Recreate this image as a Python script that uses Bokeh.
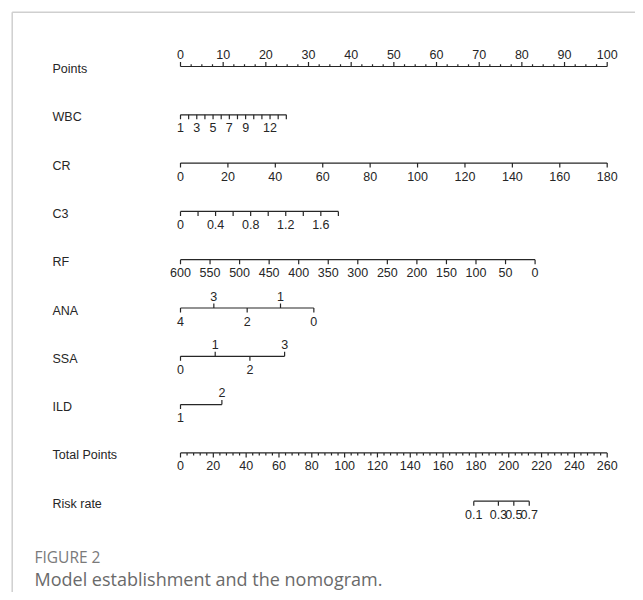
import numpy as np
from bokeh.plotting import figure
from bokeh.models import Range1d, ColumnDataSource
from bokeh.core.properties import value
from bokeh.embed import file_html
from bokeh.resources import INLINE

# ---------------- data ----------------
row_names = ["Points", "WBC", "CR", "C3", "RF", "ANA", "SSA", "ILD", "Total Points", "Risk rate"]

points_max = 100
points_major = [0, 10, 20, 30, 40, 50, 60, 70, 80, 90, 100]
points_minor_step = 2.5

wbc_values = [1, 2, 3, 4, 5, 6, 7, 8, 9, 10, 11, 12, 13, 14]
wbc_labels = [1, 3, 5, 7, 9, 12]
wbc_points_at_max = 24.8          # points given to WBC = 14

cr_values = [0, 20, 40, 60, 80, 100, 120, 140, 160, 180]
cr_labels = [0, 20, 40, 60, 80, 100, 120, 140, 160, 180]
cr_points_at_max = 100.0          # points given to CR = 180

c3_values = [0, 0.2, 0.4, 0.6, 0.8, 1.0, 1.2, 1.4, 1.6, 1.8]
c3_labels = [0, 0.4, 0.8, 1.2, 1.6]
c3_points_at_max = 37.0           # points given to C3 = 1.8

rf_values = [600, 550, 500, 450, 400, 350, 300, 250, 200, 150, 100, 50, 0]
rf_labels = [600, 550, 500, 450, 400, 350, 300, 250, 200, 150, 100, 50, 0]
rf_points_at_max = 83.1           # points given to RF = 0

ana_values = [4, 3, 2, 1, 0]
ana_labels_above = [3, 1]
ana_labels_below = [4, 2, 0]
ana_points_at_max = 31.25         # points given to ANA = 0

ssa_values = [0, 1, 2, 3]
ssa_labels_above = [1, 3]
ssa_labels_below = [0, 2]
ssa_points_at_max = 24.4          # points given to SSA = 3

ild_values = [1, 2]
ild_labels_above = [2]
ild_labels_below = [1]
ild_points_at_max = 9.7           # points given to ILD = 2

total_max = 260
total_major = [0, 20, 40, 60, 80, 100, 120, 140, 160, 180, 200, 220, 240, 260]
total_minor_step = 4

risk_labels = [0.1, 0.3, 0.5, 0.7]
risk_total_points = [178.7, 193.7, 203.1, 212.5]

caption_label = "FIGURE 2"
caption_text = "Model establishment and the nomogram."

# ---------------- layout (pixels) ----------------
FIG_W, FIG_H = 635, 592
X0_PX, X100_PX = 180.0, 606.7      # points axis 0 / 100
ROW0_PX, ROW_STEP_PX = 66.0, 48.3   # first axis line / spacing
PX_PER_PT = (X100_PX - X0_PX) / points_max


def X(px):
    return (px - X0_PX) / PX_PER_PT


def Y(py):
    return (ROW0_PX - py) / ROW_STEP_PX


def dy(px):
    return px / ROW_STEP_PX


def scale(vals, v0, v1, pmax):
    return [(v - v0) / (v1 - v0) * pmax for v in vals]


def fmt(v):
    return f"{v:g}"


p = figure(width=FIG_W, height=FIG_H,
           x_range=Range1d(X(0), X(FIG_W)),
           y_range=Range1d(Y(FIG_H), Y(0)),
           output_backend="svg", toolbar_location=None,
           min_border=0, min_border_left=0, min_border_right=0,
           min_border_top=0, min_border_bottom=0)
p.axis.visible = False
p.grid.visible = False
p.outline_line_color = None
p.background_fill_color = "white"
p.border_fill_color = "white"

LINE_C = "#262626"
TEXT_C = "#262626"
TICK_FONT = value("Liberation Sans")
TICK_SIZE = "12.5px"
NAME_SIZE = "12.5px"

# frame border (top and left)
p.segment(x0=[X(11.7), X(11.7)], y0=[Y(11.7), Y(11.7)],
          x1=[X(FIG_W + 5), X(11.7)], y1=[Y(11.7), Y(FIG_H + 5)],
          line_color="#cfcfcf", line_width=1.5)

seg = {"x0": [], "y0": [], "x1": [], "y1": []}
labs = {"above": {"x": [], "y": [], "t": []}, "below": {"x": [], "y": [], "t": []}}


def add_axis(row, pts, up_flags, tick_len_px):
    y = -row
    seg["x0"].append(min(pts)); seg["x1"].append(max(pts))
    seg["y0"].append(y); seg["y1"].append(y)
    for x, up, tl in zip(pts, up_flags, tick_len_px):
        seg["x0"].append(x); seg["x1"].append(x)
        seg["y0"].append(y); seg["y1"].append(y + (dy(tl) if up else -dy(tl)))


def add_labels(row, pts, texts, where):
    for x, t in zip(pts, texts):
        labs[where]["x"].append(x)
        labs[where]["y"].append(-row)
        labs[where]["t"].append(t)


# Row 0: Points
pt_ticks = list(np.arange(0, points_max + 1e-9, points_minor_step))
add_axis(0, pt_ticks, [True] * len(pt_ticks),
         [4.5 if abs(t % 10) < 1e-9 else 2.3 for t in pt_ticks])
add_labels(0, points_major, [fmt(v) for v in points_major], "above")

# Row 1: WBC
wbc_pts = scale(wbc_values, wbc_values[0], wbc_values[-1], wbc_points_at_max)
add_axis(1, wbc_pts, [False] * len(wbc_pts), [4.5] * len(wbc_pts))
add_labels(1, scale(wbc_labels, wbc_values[0], wbc_values[-1], wbc_points_at_max),
           [fmt(v) for v in wbc_labels], "below")

# Row 2: CR
cr_pts = scale(cr_values, cr_values[0], cr_values[-1], cr_points_at_max)
add_axis(2, cr_pts, [False] * len(cr_pts), [4.5] * len(cr_pts))
add_labels(2, scale(cr_labels, cr_values[0], cr_values[-1], cr_points_at_max),
           [fmt(v) for v in cr_labels], "below")

# Row 3: C3
c3_pts = scale(c3_values, c3_values[0], c3_values[-1], c3_points_at_max)
add_axis(3, c3_pts, [False] * len(c3_pts), [4.5] * len(c3_pts))
add_labels(3, scale(c3_labels, c3_values[0], c3_values[-1], c3_points_at_max),
           [fmt(v) for v in c3_labels], "below")

# Row 4: RF
rf_pts = scale(rf_values, rf_values[0], rf_values[-1], rf_points_at_max)
add_axis(4, rf_pts, [False] * len(rf_pts), [4.5] * len(rf_pts))
add_labels(4, scale(rf_labels, rf_values[0], rf_values[-1], rf_points_at_max),
           [fmt(v) for v in rf_labels], "below")

# Rows 5-7: axes with labels above and below
for row, vals, above, below, pmax in [
        (5, ana_values, ana_labels_above, ana_labels_below, ana_points_at_max),
        (6, ssa_values, ssa_labels_above, ssa_labels_below, ssa_points_at_max),
        (7, ild_values, ild_labels_above, ild_labels_below, ild_points_at_max)]:
    pts = scale(vals, vals[0], vals[-1], pmax)
    ups = [v in above for v in vals]
    add_axis(row, pts, ups, [4.5] * len(pts))
    add_labels(row, scale(above, vals[0], vals[-1], pmax), [fmt(v) for v in above], "above")
    add_labels(row, scale(below, vals[0], vals[-1], pmax), [fmt(v) for v in below], "below")

# Row 8: Total Points
tot_ticks = list(np.arange(0, total_max + 1e-9, total_minor_step))
tot_pts = scale(tot_ticks, 0, total_max, points_max)
add_axis(8, tot_pts, [False] * len(tot_pts),
         [4.5 if abs(t % 20) < 1e-9 else 2.6 for t in tot_ticks])
add_labels(8, scale(total_major, 0, total_max, points_max), [fmt(v) for v in total_major], "below")

# Row 9: Risk rate
risk_pts = scale(risk_total_points, 0, total_max, points_max)
add_axis(9, risk_pts, [False] * len(risk_pts), [4.5] * len(risk_pts))
add_labels(9, risk_pts, [fmt(v) for v in risk_labels], "below")

p.segment(x0="x0", y0="y0", x1="x1", y1="y1", source=ColumnDataSource(seg),
          line_color=LINE_C, line_width=1.2)

p.text(x=labs["above"]["x"], y=labs["above"]["y"], text=labs["above"]["t"],
       text_font=TICK_FONT, text_font_size=TICK_SIZE, text_color=TEXT_C,
       text_align="center", text_baseline="middle", y_offset=-12)
p.text(x=labs["below"]["x"], y=labs["below"]["y"], text=labs["below"]["t"],
       text_font=TICK_FONT, text_font_size=TICK_SIZE, text_color=TEXT_C,
       text_align="center", text_baseline="middle", y_offset=13)

# row names
p.text(x=[X(52)] * len(row_names), y=[-i for i in range(len(row_names))], text=row_names,
       text_font=TICK_FONT, text_font_size=NAME_SIZE, text_color=TEXT_C,
       text_align="left", text_baseline="middle", y_offset=2.5)

# caption
p.text(x=[X(34)], y=[Y(556)], text=[caption_label], text_font=value("Open Sans"),
       text_font_size="15.5px", text_color="#7a7a7a", text_align="left", text_baseline="middle")
p.text(x=[X(34)], y=[Y(578)], text=[caption_text], text_font=value("Open Sans"),
       text_font_size="18px", text_color="#6a6a6a", text_align="left", text_baseline="middle")

open("out.html", "w").write(file_html(p, INLINE))
